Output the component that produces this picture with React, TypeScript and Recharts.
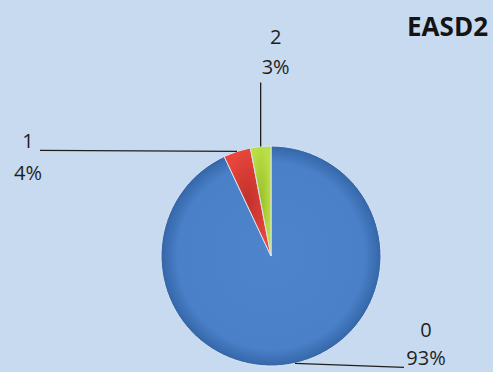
import React from "react";
import { PieChart, Pie, Cell } from "recharts";

// slice data
const categories = ["0", "1", "2"];
const shares = [93, 4, 3];
const percentLabels = ["93%", "4%", "3%"];

const chartTitle = "EASD2";

const data = categories.map((name, i) => ({ name, value: shares[i], pct: percentLabels[i] }));

const fills = ["url(#gBlue)", "url(#gRed)", "url(#gGreen)"];

// leader line end (relative to slice edge) and text anchor (relative to line end)
const labelLayout = [
  { lx: 109, ly: 4, tx: 22, ty1: -30, ty2: -2 },
  { lx: -197, ly: -1, tx: -12, ty1: -2, ty2: 30 },
  { lx: 0, ly: -64, tx: 15, ty1: -38, ty2: -8 },
];

const RAD = Math.PI / 180;

const renderLabel = (props: any) => {
  const { cx, cy, midAngle, outerRadius, index } = props;
  const lay = labelLayout[index];
  const sx = cx + outerRadius * Math.cos(-midAngle * RAD);
  const sy = cy + outerRadius * Math.sin(-midAngle * RAD);
  const ex = sx + lay.lx;
  const ey = sy + lay.ly;
  return (
    <g key={`lbl-${index}`}>
      <line x1={sx} y1={sy} x2={ex} y2={ey} stroke="#1f1f1f" strokeWidth={1.3} />
      <text x={ex + lay.tx} y={ey + lay.ty1} textAnchor="middle" fontSize={20} fill="#1f1f1f" fontFamily="'Open Sans', sans-serif">
        {data[index].name}
      </text>
      <text x={ex + lay.tx} y={ey + lay.ty2} textAnchor="middle" fontSize={20} fill="#1f1f1f" fontFamily="'Open Sans', sans-serif">
        {data[index].pct}
      </text>
    </g>
  );
};

export default function App() {
  return (
    <div style={{ position: "fixed", left: 0, top: 0, width: 493, height: 372, background: "#c8daf0" }}>
      <PieChart width={493} height={372} margin={{ top: 0, right: 0, bottom: 0, left: 0 }}>
        <defs>
          <radialGradient id="gBlue" cx="50%" cy="50%" r="50%">
            <stop offset="0%" stopColor="#4d84cc" />
            <stop offset="85%" stopColor="#4a80c8" />
            <stop offset="100%" stopColor="#3466a8" />
          </radialGradient>
          <radialGradient id="gRed" cx="50%" cy="50%" r="50%">
            <stop offset="0%" stopColor="#c0302a" />
            <stop offset="100%" stopColor="#e8463c" />
          </radialGradient>
          <radialGradient id="gGreen" cx="50%" cy="50%" r="50%">
            <stop offset="0%" stopColor="#98bf2a" />
            <stop offset="100%" stopColor="#bade45" />
          </radialGradient>
        </defs>
        <Pie
          data={data}
          dataKey="value"
          nameKey="name"
          cx={271}
          cy={256}
          outerRadius={110}
          startAngle={90}
          endAngle={-270}
          stroke="#d8e4f2"
          strokeWidth={1}
          label={renderLabel}
          labelLine={false}
          isAnimationActive={false}
        >
          {data.map((entry, index) => (
            <Cell key={`cell-${index}`} fill={fills[index]} />
          ))}
        </Pie>
      </PieChart>
      <div
        style={{
          position: "absolute",
          right: 5,
          top: 9,
          fontFamily: "'Open Sans', sans-serif",
          fontWeight: 700,
          fontSize: 26,
          color: "#141414",
          lineHeight: "34px",
        }}
      >
        {chartTitle}
      </div>
    </div>
  );
}
